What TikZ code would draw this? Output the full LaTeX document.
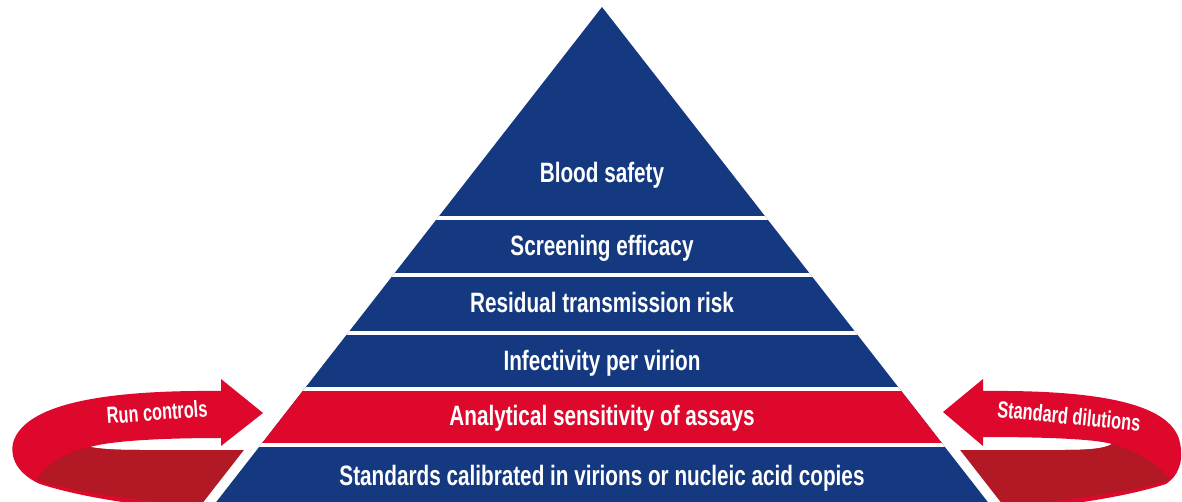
\documentclass[tikz,border=0pt]{standalone}
\usepackage{fontspec}
\newfontfamily\condfont{Liberation Sans}[FakeStretch=0.74]
\newfontfamily\narrowfont{Liberation Sans}[FakeStretch=0.70]
\definecolor{pyrblue}{RGB}{21,57,128}
\definecolor{ribred}{RGB}{222,8,45}
\definecolor{ribdark}{RGB}{178,25,36}
\begin{document}
\begin{tikzpicture}[x=0.75pt,y=-0.75pt,
  lbl/.style={text=white, font=\condfont\bfseries\fontsize{21}{24}\selectfont, inner sep=0pt, text height=15pt, text depth=0pt},
  rlbl/.style={text=white, font=\narrowfont\bfseries\fontsize{17.5}{20}\selectfont, inner sep=0pt, text height=12.5pt, text depth=0pt},
  gapline/.style={white, line width=15pt}]
\useasboundingbox (0,0) rectangle (1182,502);
\fill[white] (0,0) rectangle (1182,502);
\begin{scope}
\clip (0,0) rectangle (1182,502);
% left ribbon
\fill[ribred] (263,413) -- (221,379) -- (221,391)
  .. controls (120,390) and (25,400) .. (13,443)
  .. controls (9,463) and (24,477) .. (40,484)
  .. controls (90,500) and (150,506) .. (230,516)
  -- (320,516) -- (320,450) -- (140,450)
  .. controls (115,450) and (100,449) .. (90,447)
  .. controls (110,441) and (160,438) .. (221,438) -- (221,446) -- cycle;
\fill[ribdark] (90,447) .. controls (65,452) and (45,465) .. (37,480)
  .. controls (80,494) and (140,500) .. (230,510)
  -- (320,510) -- (320,450) -- (140,450)
  .. controls (115,450) and (100,449) .. (90,447) -- cycle;
% right ribbon
\fill[ribred] (943,412) -- (983,379) -- (983,391)
  .. controls (1085,390) and (1172,400) .. (1180,443)
  .. controls (1184,462) and (1178,476) .. (1166,484)
  .. controls (1115,500) and (1055,506) .. (975,516)
  -- (885,516) -- (885,450) -- (1065,450)
  .. controls (1092,450) and (1106,448) .. (1112,444)
  .. controls (1095,439) and (1045,437) .. (983,437) -- (983,446) -- cycle;
\fill[ribdark] (1112,444) .. controls (1138,452) and (1160,465) .. (1170,480)
  .. controls (1125,494) and (1065,500) .. (975,510)
  -- (885,510) -- (885,450) -- (1065,450)
  .. controls (1092,450) and (1106,448) .. (1112,444) -- cycle;
% gaps between ribbons and pyramid
\draw[gapline] (602,7) -- (210,510);
\draw[gapline] (602,7) -- (994,510);
% pyramid
\fill[pyrblue] (602,7) -- (210,510) -- (994,510) -- cycle;
\clip (602,7) -- (210,510) -- (994,510) -- cycle;
\fill[ribred] (0,389) rectangle (1182,445);
\fill[white] (0,216) rectangle (1182,220);
\fill[white] (0,273) rectangle (1182,277);
\fill[white] (0,331) rectangle (1182,335);
\fill[white] (0,387) rectangle (1182,391);
\fill[white] (0,443) rectangle (1182,447);
\end{scope}
% labels
\node[lbl] (blood) at (602,173) {Blood safety};
\node[lbl] (screen) at (602,246) {Screening efficacy};
\node[lbl] (resid) at (602,303) {Residual transmission risk};
\node[lbl] (infect) at (602,360) {Infectivity per virion};
\node[lbl] (analyt) at (602,416) {Analytical sensitivity of assays};
\node[lbl] (stand) at (602,475) {Standards calibrated in virions or nucleic acid copies};
\node[rlbl, rotate=4] (runc) at (157,412) {Run controls};
\node[rlbl, rotate=-5.5] (stdil) at (1069,416) {Standard dilutions};
\end{tikzpicture}
\end{document}
